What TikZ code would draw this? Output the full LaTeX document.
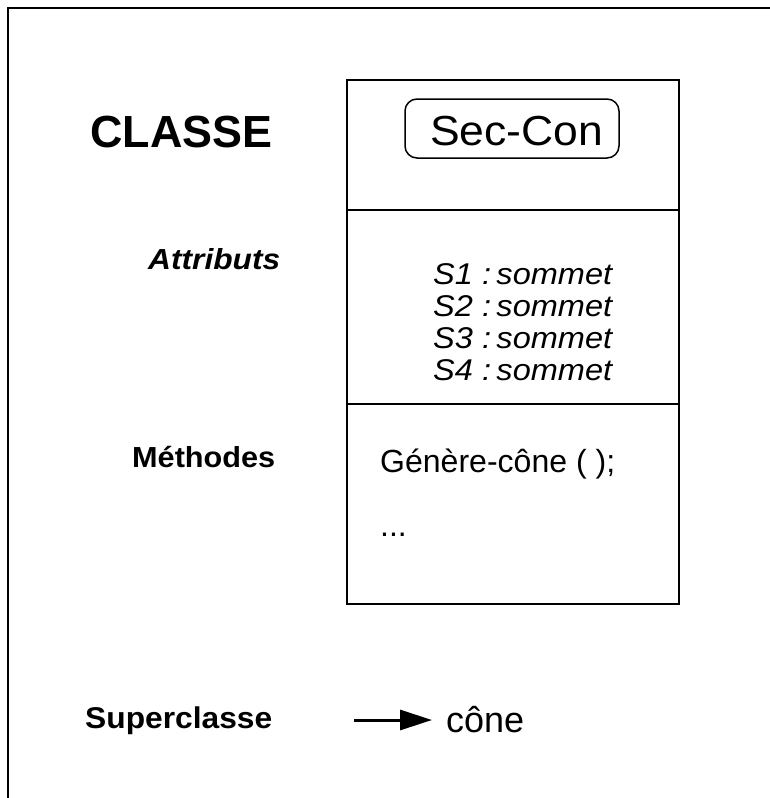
\documentclass[tikz,border=0pt]{standalone}
\usepackage{fontspec}
\setmainfont{Liberation Sans}
\usepackage{graphicx}
\usetikzlibrary{arrows.meta}

% stretch a text horizontally to a given width, keeping its height
\newcommand{\fitwidth}[2]{\resizebox{#1}{\height}{#2}}
\newcommand{\fsz}[1]{\fontsize{#1}{#1}\selectfont}

\begin{document}
\begin{tikzpicture}[x=1pt,y=-1pt,
    txt/.style={inner sep=0pt, anchor=base west},
    frameline/.style={line width=2pt, line cap=rect},
    boxline/.style={line width=1.8pt},
  ]
  \useasboundingbox (0,0) rectangle (769,798);

  % open outer frame (left and top sides only)
  \draw[frameline] (8,798) -- (8,8) -- (769,8);

  % class box with three compartments
  \draw[boxline] (347,80) rectangle (679,604);
  \draw[boxline] (347,210) -- (679,210);
  \draw[boxline] (347,404) -- (679,404);

  % class name
  \node[draw, line width=1.5pt, rounded corners=12pt, minimum width=214pt,
        minimum height=59pt, inner sep=0pt] (namebox) at (512,128.5) {};
  \node[txt, anchor=base] (name) at (516.5,145) {\fsz{42}\fitwidth{173pt}{Sec-Con}};

  % row labels
  \node[txt] (classe) at (90,147) {\fsz{45}\bfseries\fitwidth{182pt}{CLASSE}};
  \node[txt] (attr) at (148,269) {\fsz{29}\bfseries\itshape\fitwidth{132pt}{Attributs}};
  \node[txt] (meth) at (132,467) {\fsz{29}\bfseries\fitwidth{143pt}{Méthodes}};
  \node[txt] (super) at (85,728) {\fsz{30}\bfseries\fitwidth{187pt}{Superclasse}};

  % attributes
  \node[txt] (s1) at (433,284) {\fsz{30}\itshape\fitwidth{179pt}{S1 :\,sommet}};
  \node[txt] (s2) at (433,316) {\fsz{30}\itshape\fitwidth{179pt}{S2 :\,sommet}};
  \node[txt] (s3) at (433,348) {\fsz{30}\itshape\fitwidth{179pt}{S3 :\,sommet}};
  \node[txt] (s4) at (433,380) {\fsz{30}\itshape\fitwidth{179pt}{S4 :\,sommet}};

  % methods
  \node[txt] (gen) at (380,472) {\fsz{32}\fitwidth{235pt}{Génère-cône ( );}};
  \node[txt] (dots) at (380,536) {\fsz{32}...};

  % superclass
  \node[txt] (cone) at (446,732) {\fsz{36}cône};
  \coordinate (arrstart) at (354,720);
  \draw[line width=3pt, -{Triangle[length=32pt,width=20pt]}]
    (arrstart) -- (cone.west |- arrstart) [shorten >=14pt];
\end{tikzpicture}
\end{document}
